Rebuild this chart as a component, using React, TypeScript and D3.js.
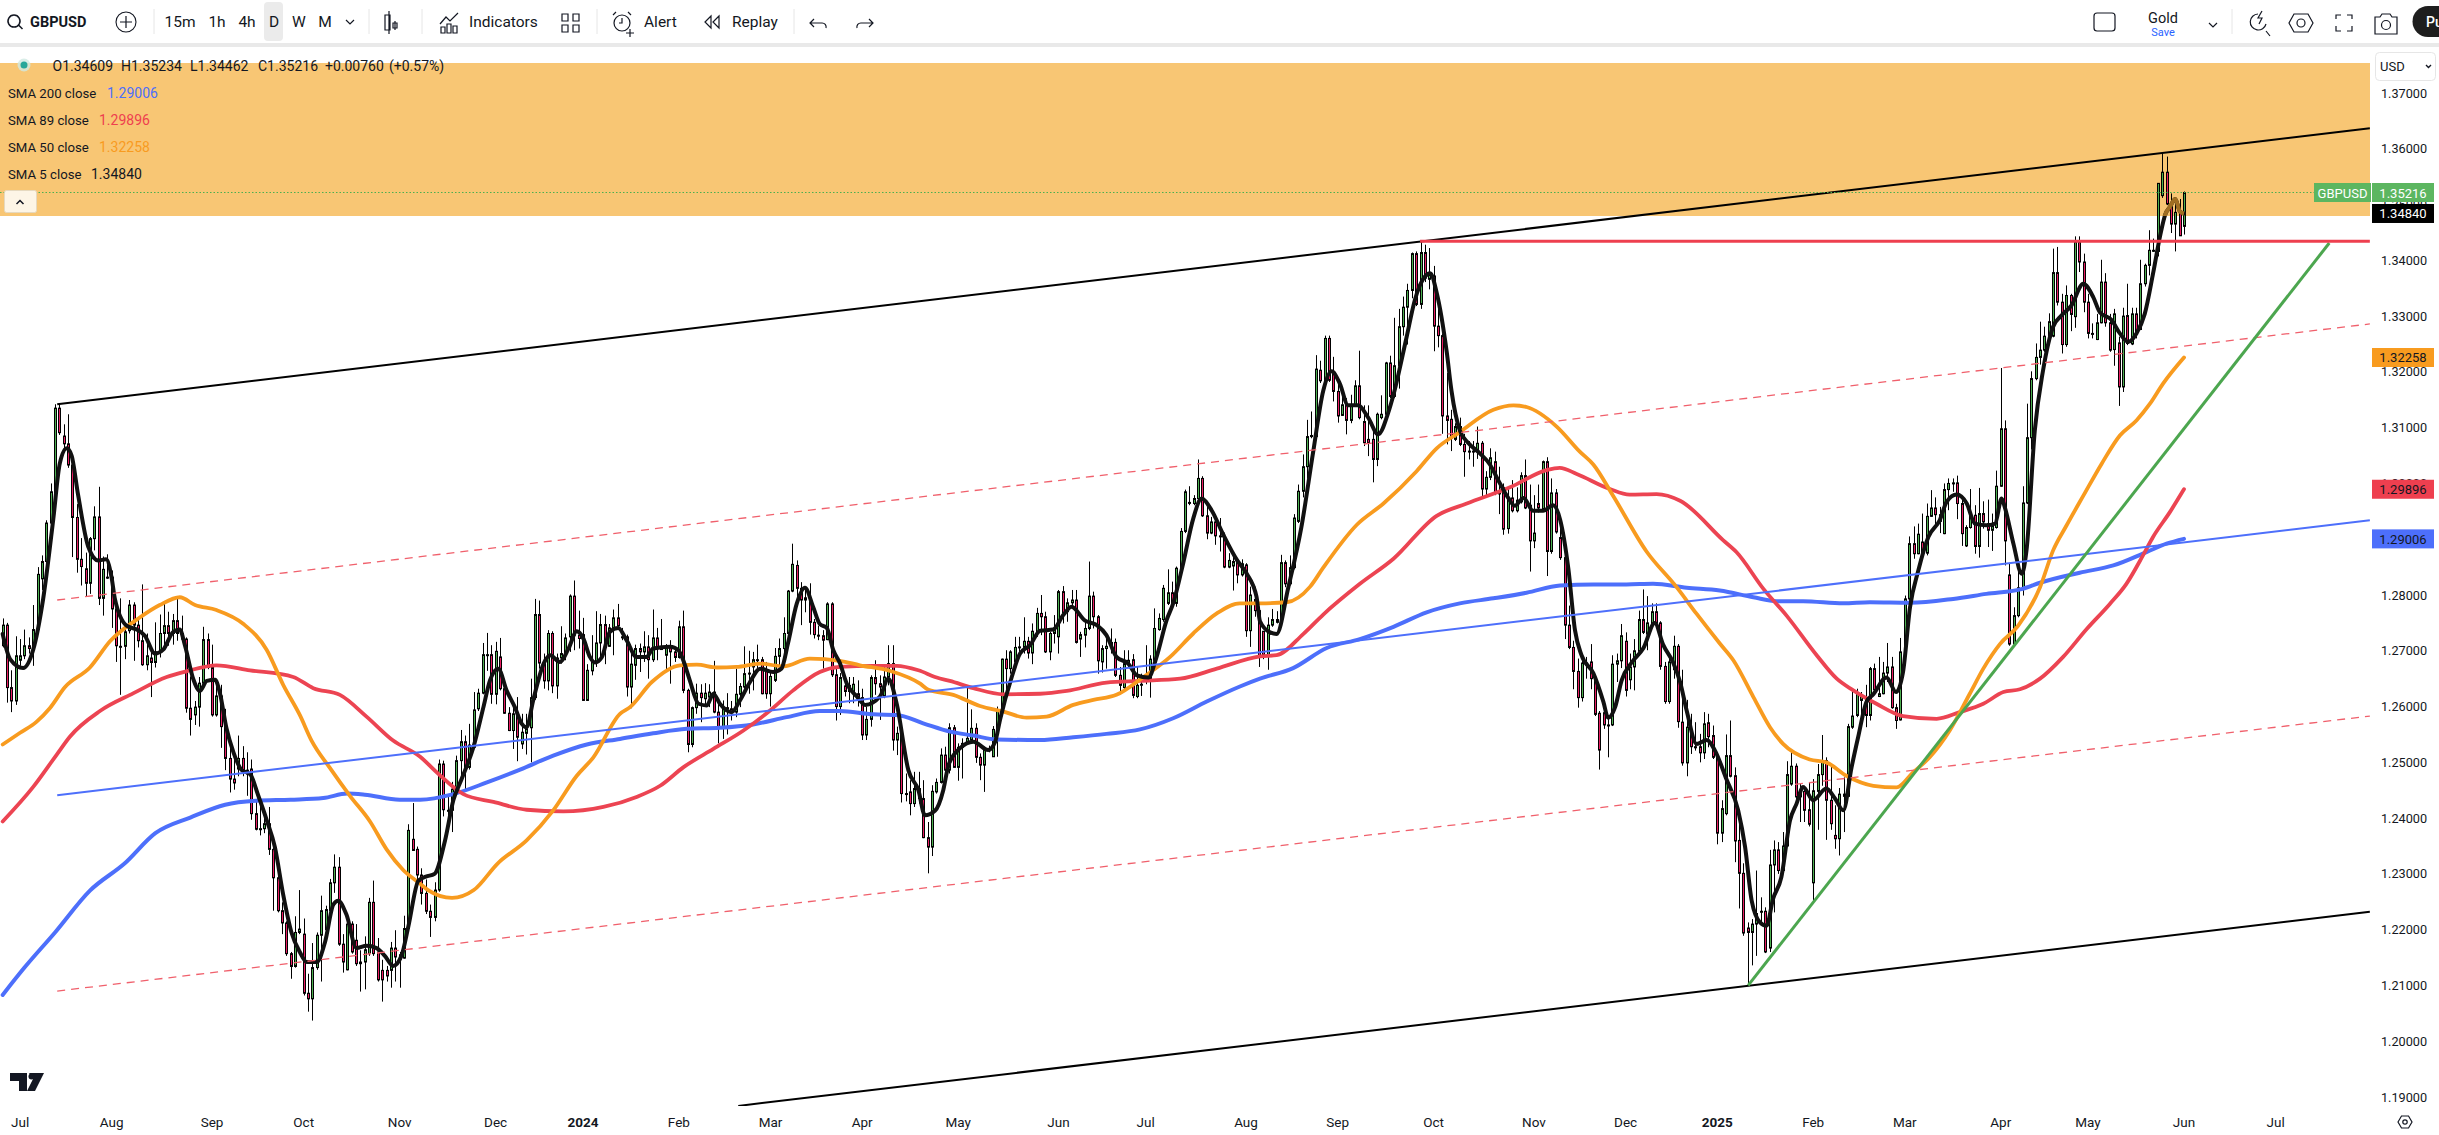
import React from "react";
import * as d3 from "d3";

type Row = number[];
// Daily GBPUSD candles, [open, high, low, close]
const bars2023Jul: Row[] = [
[1.2709,1.2758,1.2706,1.2746],[1.2746,1.2750,1.2607,1.2634],[1.2634,1.2665,1.2590,1.2610],[1.2610,1.2726,1.2603,1.2691],[1.2683,1.2721,1.2673,1.2691],[1.2691,1.2738,1.2685,1.2709],[1.2709,1.2724,1.2695,1.2704],[1.2704,1.2782,1.2673,1.2738],[1.2738,1.2850,1.2731,1.2837],[1.2829,1.2871,1.2809,1.2860],
[1.2860,1.2934,1.2855,1.2929],[1.2929,1.3000,1.2926,1.2985],[1.2982,1.3142,1.2979,1.3135],[1.3135,1.3142,1.3087,1.3091],[1.3085,1.3106,1.3060,1.3071],[1.3071,1.3124,1.3028,1.3033],[1.3033,1.3043,1.2868,1.2939],[1.2939,1.2963,1.2840,1.2864],[1.2864,1.2902,1.2817,1.2851],[1.2847,1.2876,1.2798,1.2821],
[1.2821,1.2904,1.2802,1.2901],[1.2901,1.2959,1.2880,1.2940],[1.2940,1.2994,1.2782,1.2794],[1.2794,1.2869,1.2763,1.2846],[1.2832,1.2873,1.2829,1.2832],
];
const bars2023Aug: Row[] = [
[1.2832,1.2844,1.2741,1.2775],[1.2775,1.2791,1.2680,1.2709],[1.2708,1.2794,1.2621,1.2708],[1.2708,1.2745,1.2685,1.2734],[1.2736,1.2791,1.2731,1.2782],[1.2782,1.2787,1.2682,1.2746],[1.2746,1.2760,1.2706,1.2718],[1.2718,1.2819,1.2673,1.2675],[1.2675,1.2731,1.2665,1.2691],[1.2687,1.2702,1.2617,1.2679],
[1.2679,1.2751,1.2670,1.2698],[1.2698,1.2765,1.2688,1.2731],[1.2731,1.2786,1.2709,1.2745],[1.2745,1.2770,1.2709,1.2731],[1.2731,1.2766,1.2711,1.2754],[1.2754,1.2798,1.2718,1.2731],[1.2731,1.2763,1.2717,1.2721],[1.2721,1.2724,1.2589,1.2597],[1.2597,1.2654,1.2548,1.2577],[1.2585,1.2610,1.2567,1.2599],
[1.2599,1.2653,1.2564,1.2642],[1.2642,1.2743,1.2639,1.2720],[1.2720,1.2731,1.2667,1.2670],
];
const bars2023Sep: Row[] = [
[1.2670,1.2711,1.2582,1.2585],[1.2585,1.2642,1.2582,1.2619],[1.2619,1.2639,1.2526,1.2564],[1.2564,1.2596,1.2486,1.2507],[1.2507,1.2532,1.2446,1.2470],[1.2470,1.2507,1.2451,1.2463],[1.2488,1.2548,1.2475,1.2507],[1.2507,1.2529,1.2475,1.2486],[1.2486,1.2518,1.2440,1.2479],[1.2488,1.2505,1.2397,1.2408],
[1.2408,1.2433,1.2378,1.2380],[1.2381,1.2429,1.2369,1.2381],[1.2381,1.2411,1.2373,1.2390],[1.2390,1.2420,1.2334,1.2344],[1.2344,1.2362,1.2234,1.2293],[1.2293,1.2320,1.2231,1.2234],[1.2234,1.2249,1.2192,1.2212],[1.2212,1.2215,1.2153,1.2157],[1.2157,1.2160,1.2112,1.2134],[1.2134,1.2224,1.2132,1.2195],
[1.2195,1.2271,1.2192,1.2201],
];
const bars2023Oct: Row[] = [
[1.2192,1.2220,1.2082,1.2086],[1.2086,1.2121,1.2053,1.2076],[1.2076,1.2176,1.2037,1.2132],[1.2132,1.2195,1.2128,1.2190],[1.2190,1.2261,1.2107,1.2234],[1.2200,1.2243,1.2195,1.2236],[1.2234,1.2291,1.2231,1.2284],[1.2284,1.2335,1.2266,1.2312],[1.2312,1.2330,1.2171,1.2174],[1.2174,1.2192,1.2123,1.2142],
[1.2128,1.2215,1.2127,1.2210],[1.2210,1.2215,1.2157,1.2160],[1.2181,1.2210,1.2135,1.2139],[1.2142,1.2163,1.2089,1.2139],[1.2142,1.2188,1.2093,1.2164],[1.2157,1.2257,1.2153,1.2249],[1.2249,1.2288,1.2153,1.2157],[1.2160,1.2185,1.2107,1.2110],[1.2127,1.2146,1.2071,1.2110],[1.2127,1.2135,1.2107,1.2117],
[1.2127,1.2178,1.2096,1.2167],[1.2167,1.2199,1.2107,1.2151],
];
const bars2023Nov: Row[] = [
[1.2147,1.2160,1.2096,1.2155],[1.2149,1.2225,1.2148,1.2202],[1.2202,1.2389,1.2199,1.2378],[1.2362,1.2427,1.2342,1.2342],[1.2344,1.2349,1.2291,1.2298],[1.2298,1.2310,1.2245,1.2265],[1.2265,1.2290,1.2228,1.2233],[1.2233,1.2245,1.2187,1.2222],[1.2222,1.2285,1.2215,1.2271],[1.2271,1.2505,1.2268,1.2497],
[1.2497,1.2503,1.2403,1.2415],[1.2414,1.2440,1.2375,1.2414],[1.2414,1.2465,1.2375,1.2452],[1.2447,1.2512,1.2444,1.2503],[1.2503,1.2558,1.2473,1.2537],[1.2537,1.2548,1.2447,1.2491],[1.2491,1.2569,1.2487,1.2531],[1.2527,1.2626,1.2524,1.2594],[1.2596,1.2632,1.2592,1.2624],[1.2624,1.2714,1.2622,1.2693],
[1.2693,1.2732,1.2664,1.2693],[1.2693,1.2710,1.2605,1.2622],
];
const bars2023Dec: Row[] = [
[1.2622,1.2716,1.2604,1.2699],[1.2689,1.2723,1.2629,1.2632],[1.2632,1.2635,1.2587,1.2588],[1.2588,1.2599,1.2556,1.2557],[1.2557,1.2599,1.2524,1.2587],[1.2587,1.2617,1.2502,1.2545],[1.2533,1.2587,1.2524,1.2554],[1.2552,1.2587,1.2514,1.2560],[1.2562,1.2650,1.2500,1.2616],[1.2616,1.2793,1.2612,1.2765],
[1.2765,1.2790,1.2668,1.2678],[1.2678,1.2695,1.2632,1.2646],[1.2646,1.2737,1.2629,1.2731],[1.2731,1.2735,1.2624,1.2637],[1.2637,1.2695,1.2614,1.2687],[1.2687,1.2744,1.2677,1.2695],[1.2695,1.2731,1.2683,1.2723],[1.2725,1.2801,1.2698,1.2798],[1.2798,1.2826,1.2701,1.2728],[1.2728,1.2772,1.2704,1.2722],
];
const bars2024Jan: Row[] = [
[1.2729,1.2759,1.2611,1.2611],[1.2611,1.2676,1.2610,1.2665],[1.2664,1.2728,1.2656,1.2680],[1.2680,1.2771,1.2671,1.2714],[1.2714,1.2766,1.2686,1.2747],[1.2747,1.2763,1.2676,1.2710],[1.2708,1.2748,1.2707,1.2741],[1.2741,1.2774,1.2692,1.2759],[1.2759,1.2784,1.2741,1.2745],[1.2725,1.2741,1.2719,1.2725],
[1.2725,1.2729,1.2618,1.2635],[1.2635,1.2698,1.2597,1.2676],[1.2674,1.2711,1.2648,1.2704],[1.2704,1.2713,1.2662,1.2698],[1.2698,1.2735,1.2680,1.2707],[1.2707,1.2728,1.2650,1.2684],[1.2684,1.2774,1.2680,1.2723],[1.2723,1.2741,1.2683,1.2705],[1.2704,1.2757,1.2702,1.2703],[1.2692,1.2712,1.2662,1.2705],
[1.2707,1.2719,1.2641,1.2698],[1.2698,1.2707,1.2680,1.2688],
];
const bars2024Feb: Row[] = [
[1.2688,1.2754,1.2686,1.2743],[1.2743,1.2772,1.2624,1.2629],[1.2629,1.2632,1.2518,1.2532],[1.2532,1.2600,1.2527,1.2598],[1.2598,1.2641,1.2587,1.2624],[1.2624,1.2640,1.2572,1.2616],[1.2614,1.2642,1.2602,1.2624],[1.2617,1.2640,1.2599,1.2626],[1.2626,1.2682,1.2588,1.2590],[1.2590,1.2605,1.2534,1.2563],
[1.2563,1.2611,1.2542,1.2598],[1.2598,1.2624,1.2550,1.2596],[1.2596,1.2610,1.2575,1.2590],[1.2590,1.2668,1.2581,1.2622],[1.2622,1.2642,1.2599,1.2636],[1.2635,1.2708,1.2632,1.2659],[1.2659,1.2700,1.2623,1.2660],[1.2671,1.2698,1.2629,1.2684],[1.2684,1.2711,1.2662,1.2684],[1.2684,1.2689,1.2622,1.2623],
[1.2665,1.2680,1.2614,1.2623],
];
const bars2024Mar: Row[] = [
[1.2623,1.2665,1.2600,1.2654],[1.2647,1.2705,1.2644,1.2690],[1.2690,1.2722,1.2674,1.2704],[1.2704,1.2760,1.2692,1.2731],[1.2731,1.2809,1.2728,1.2807],[1.2807,1.2892,1.2805,1.2855],[1.2853,1.2862,1.2793,1.2812],[1.2812,1.2823,1.2746,1.2791],[1.2795,1.2814,1.2769,1.2791],[1.2793,1.2821,1.2729,1.2751],
[1.2751,1.2757,1.2722,1.2729],[1.2728,1.2745,1.2719,1.2727],[1.2727,1.2737,1.2668,1.2719],[1.2720,1.2787,1.2719,1.2784],[1.2784,1.2787,1.2653,1.2657],[1.2657,1.2671,1.2575,1.2600],[1.2600,1.2660,1.2585,1.2652],[1.2637,1.2653,1.2618,1.2627],[1.2627,1.2653,1.2606,1.2638],[1.2625,1.2653,1.2606,1.2640],
[1.2623,1.2647,1.2600,1.2618],
];
const bars2024Apr: Row[] = [
[1.2616,1.2632,1.2540,1.2549],[1.2549,1.2600,1.2540,1.2577],[1.2577,1.2656,1.2564,1.2652],[1.2652,1.2683,1.2621,1.2641],[1.2641,1.2656,1.2576,1.2635],[1.2619,1.2671,1.2615,1.2653],[1.2653,1.2710,1.2638,1.2677],[1.2677,1.2710,1.2521,1.2540],[1.2540,1.2564,1.2513,1.2552],[1.2552,1.2558,1.2428,1.2444],
[1.2444,1.2480,1.2430,1.2444],[1.2447,1.2468,1.2405,1.2426],[1.2426,1.2483,1.2420,1.2453],[1.2453,1.2483,1.2426,1.2435],[1.2435,1.2468,1.2364,1.2365],[1.2365,1.2393,1.2301,1.2348],[1.2348,1.2459,1.2332,1.2448],[1.2447,1.2471,1.2444,1.2464],[1.2464,1.2525,1.2462,1.2513],[1.2513,1.2528,1.2480,1.2486],
[1.2486,1.2570,1.2480,1.2562],[1.2562,1.2567,1.2491,1.2491],
];
const bars2024May: Row[] = [
[1.2491,1.2534,1.2467,1.2527],[1.2527,1.2543,1.2471,1.2534],[1.2534,1.2634,1.2531,1.2543],[1.2540,1.2595,1.2537,1.2561],[1.2561,1.2570,1.2499,1.2509],[1.2509,1.2516,1.2468,1.2495],[1.2495,1.2528,1.2447,1.2525],[1.2525,1.2530,1.2518,1.2523],[1.2510,1.2565,1.2510,1.2559],[1.2559,1.2600,1.2510,1.2592],
[1.2592,1.2686,1.2591,1.2685],[1.2685,1.2701,1.2618,1.2668],[1.2668,1.2701,1.2659,1.2698],[1.2680,1.2725,1.2677,1.2706],[1.2707,1.2725,1.2695,1.2707],[1.2706,1.2760,1.2695,1.2717],[1.2717,1.2725,1.2686,1.2696],[1.2696,1.2749,1.2676,1.2735],[1.2734,1.2777,1.2725,1.2767],[1.2767,1.2800,1.2728,1.2761],
[1.2761,1.2770,1.2696,1.2698],[1.2698,1.2734,1.2683,1.2731],
];
const bars2024Jun: Row[] = [
[1.2731,1.2764,1.2713,1.2740],[1.2725,1.2809,1.2695,1.2806],[1.2806,1.2816,1.2749,1.2768],[1.2770,1.2794,1.2752,1.2786],[1.2786,1.2809,1.2779,1.2791],[1.2791,1.2809,1.2713,1.2715],[1.2721,1.2734,1.2689,1.2729],[1.2728,1.2755,1.2706,1.2740],[1.2740,1.2860,1.2737,1.2798],[1.2798,1.2806,1.2740,1.2761],
[1.2761,1.2764,1.2659,1.2682],[1.2680,1.2710,1.2661,1.2704],[1.2704,1.2722,1.2668,1.2708],[1.2708,1.2740,1.2695,1.2715],[1.2715,1.2722,1.2653,1.2656],[1.2656,1.2671,1.2622,1.2638],[1.2634,1.2701,1.2629,1.2677],[1.2677,1.2701,1.2670,1.2683],[1.2684,1.2694,1.2615,1.2620],[1.2618,1.2671,1.2615,1.2638],
];
const bars2024Jul: Row[] = [
[1.2640,1.2659,1.2619,1.2640],[1.2647,1.2710,1.2640,1.2647],[1.2649,1.2692,1.2616,1.2685],[1.2683,1.2776,1.2677,1.2740],[1.2738,1.2767,1.2736,1.2758],[1.2756,1.2818,1.2752,1.2812],[1.2785,1.2846,1.2782,1.2804],[1.2804,1.2824,1.2782,1.2785],[1.2785,1.2851,1.2779,1.2848],[1.2846,1.2920,1.2842,1.2914],
[1.2914,1.2989,1.2911,1.2985],[1.2966,1.2995,1.2961,1.2966],[1.2964,1.2979,1.2961,1.2973],[1.2973,1.3043,1.2970,1.3009],[1.3009,1.3013,1.2940,1.2942],[1.2942,1.2958,1.2900,1.2911],[1.2911,1.2940,1.2909,1.2931],[1.2931,1.2936,1.2890,1.2906],[1.2906,1.2938,1.2878,1.2905],[1.2905,1.2912,1.2848,1.2850],
[1.2850,1.2875,1.2848,1.2862],[1.2852,1.2875,1.2808,1.2860],[1.2860,1.2866,1.2821,1.2836],
];
const bars2024Aug: Row[] = [
[1.2836,1.2864,1.2833,1.2856],[1.2854,1.2857,1.2725,1.2736],[1.2736,1.2815,1.2707,1.2800],[1.2792,1.2815,1.2761,1.2772],[1.2772,1.2779,1.2671,1.2689],[1.2735,1.2735,1.2685,1.2692],[1.2691,1.2760,1.2666,1.2746],[1.2746,1.2775,1.2743,1.2756],[1.2751,1.2771,1.2749,1.2756],[1.2756,1.2872,1.2755,1.2858],
[1.2858,1.2862,1.2814,1.2820],[1.2820,1.2871,1.2817,1.2849],[1.2849,1.2945,1.2846,1.2938],[1.2932,1.2998,1.2929,1.2986],[1.2986,1.3052,1.2975,1.3030],[1.3030,1.3114,1.3009,1.3084],[1.3084,1.3129,1.3081,1.3086],[1.3084,1.3230,1.3083,1.3205],[1.3203,1.3220,1.3180,1.3184],[1.3184,1.3265,1.3179,1.3260],
[1.3260,1.3265,1.3182,1.3185],[1.3198,1.3227,1.3147,1.3165],
];
const bars2024Sep: Row[] = [
[1.3165,1.3185,1.3109,1.3121],[1.3122,1.3159,1.3121,1.3141],[1.3141,1.3153,1.3088,1.3113],[1.3113,1.3159,1.3108,1.3141],[1.3140,1.3185,1.3137,1.3175],[1.3175,1.3238,1.3115,1.3118],[1.3111,1.3140,1.3067,1.3073],[1.3079,1.3140,1.3049,1.3073],[1.3079,1.3095,1.3002,1.3043],[1.3043,1.3127,1.3031,1.3124],
[1.3118,1.3158,1.3115,1.3124],[1.3124,1.3218,1.3121,1.3216],[1.3216,1.3229,1.3153,1.3156],[1.3156,1.3297,1.3153,1.3211],[1.3211,1.3313,1.3170,1.3281],[1.3281,1.3335,1.3265,1.3316],[1.3316,1.3358,1.3249,1.3346],[1.3346,1.3414,1.3332,1.3412],[1.3412,1.3416,1.3318,1.3321],[1.3321,1.3434,1.3313,1.3414],
[1.3414,1.3428,1.3361,1.3368],[1.3366,1.3422,1.3348,1.3374],
];
const bars2024Oct: Row[] = [
[1.3372,1.3390,1.3237,1.3282],[1.3282,1.3339,1.3244,1.3265],[1.3265,1.3268,1.3089,1.3121],[1.3121,1.3198,1.3070,1.3113],[1.3115,1.3132,1.3058,1.3081],[1.3079,1.3108,1.3076,1.3102],[1.3102,1.3118,1.3067,1.3070],[1.3070,1.3089,1.3012,1.3057],[1.3058,1.3076,1.3043,1.3058],[1.3058,1.3076,1.3030,1.3057],
[1.3057,1.3102,1.3044,1.3072],[1.3072,1.3076,1.2975,1.2990],[1.2990,1.3022,1.2975,1.3011],[1.3011,1.3063,1.3006,1.3046],[1.3039,1.3057,1.2979,1.2983],[1.2983,1.3030,1.2945,1.2982],[1.2993,1.3000,1.2908,1.2918],[1.2919,1.2993,1.2910,1.2974],[1.2974,1.3006,1.2948,1.2951],[1.2951,1.2993,1.2948,1.2970],
[1.2967,1.3020,1.2964,1.3014],[1.3014,1.3043,1.2954,1.2956],
];
const bars2024Nov: Row[] = [
[1.2961,1.2998,1.2842,1.2897],[1.2897,1.2979,1.2884,1.2911],[1.2964,1.2998,1.2948,1.2956],[1.2955,1.3041,1.2951,1.3039],[1.3039,1.3047,1.2834,1.2878],[1.2878,1.3009,1.2874,1.2983],[1.2983,1.2990,1.2910,1.2913],[1.2903,1.2942,1.2863,1.2867],[1.2867,1.2871,1.2721,1.2746],[1.2746,1.2781,1.2703,1.2706],
[1.2706,1.2718,1.2631,1.2663],[1.2663,1.2686,1.2598,1.2616],[1.2616,1.2686,1.2609,1.2678],[1.2678,1.2689,1.2650,1.2675],[1.2680,1.2712,1.2631,1.2650],[1.2650,1.2653,1.2583,1.2586],[1.2588,1.2592,1.2487,1.2522],[1.2589,1.2596,1.2560,1.2567],[1.2567,1.2583,1.2509,1.2567],[1.2567,1.2692,1.2565,1.2676],
[1.2676,1.2695,1.2644,1.2682],
];
const bars2024Dec: Row[] = [
[1.2682,1.2748,1.2669,1.2727],[1.2717,1.2733,1.2618,1.2629],[1.2648,1.2695,1.2631,1.2671],[1.2671,1.2721,1.2629,1.2700],[1.2699,1.2772,1.2695,1.2756],[1.2756,1.2810,1.2730,1.2733],[1.2730,1.2798,1.2701,1.2750],[1.2748,1.2785,1.2746,1.2770],[1.2770,1.2785,1.2746,1.2750],[1.2750,1.2753,1.2666,1.2672],
[1.2672,1.2680,1.2605,1.2609],[1.2609,1.2688,1.2605,1.2680],[1.2666,1.2727,1.2650,1.2708],[1.2708,1.2712,1.2562,1.2573],[1.2572,1.2666,1.2494,1.2499],[1.2499,1.2612,1.2475,1.2563],[1.2557,1.2587,1.2515,1.2528],[1.2528,1.2572,1.2521,1.2526],[1.2528,1.2551,1.2500,1.2517],[1.2517,1.2590,1.2506,1.2569],
[1.2571,1.2587,1.2527,1.2546],
];
const bars2025Jan: Row[] = [
[1.2548,1.2566,1.2506,1.2509],[1.2510,1.2515,1.2353,1.2373],[1.2373,1.2432,1.2357,1.2417],[1.2408,1.2550,1.2405,1.2512],[1.2512,1.2575,1.2473,1.2475],[1.2476,1.2491,1.2321,1.2359],[1.2360,1.2412,1.2238,1.2301],[1.2301,1.2319,1.2189,1.2194],[1.2203,1.2213,1.2100,1.2195],[1.2195,1.2219,1.2136,1.2210],
[1.2210,1.2306,1.2153,1.2229],[1.2233,1.2258,1.2210,1.2233],[1.2233,1.2240,1.2158,1.2160],[1.2167,1.2343,1.2160,1.2316],[1.2316,1.2360,1.2231,1.2343],[1.2343,1.2357,1.2300,1.2306],[1.2306,1.2375,1.2303,1.2350],[1.2350,1.2502,1.2348,1.2478],[1.2461,1.2522,1.2458,1.2493],[1.2493,1.2498,1.2426,1.2438],
[1.2438,1.2461,1.2393,1.2448],[1.2448,1.2458,1.2393,1.2414],
];
const bars2025Feb: Row[] = [
[1.2415,1.2464,1.2385,1.2389],[1.2284,1.2470,1.2249,1.2449],[1.2448,1.2497,1.2379,1.2478],[1.2478,1.2549,1.2458,1.2503],[1.2503,1.2509,1.2361,1.2432],[1.2432,1.2497,1.2379,1.2390],[1.2369,1.2423,1.2345,1.2363],[1.2363,1.2454,1.2333,1.2443],[1.2443,1.2473,1.2375,1.2439],[1.2439,1.2569,1.2438,1.2564],
[1.2563,1.2629,1.2560,1.2583],[1.2584,1.2632,1.2581,1.2622],[1.2611,1.2626,1.2581,1.2621],[1.2612,1.2639,1.2563,1.2584],[1.2584,1.2671,1.2575,1.2668],[1.2668,1.2677,1.2628,1.2630],[1.2618,1.2689,1.2617,1.2623],[1.2623,1.2680,1.2622,1.2660],[1.2660,1.2714,1.2644,1.2671],[1.2671,1.2689,1.2596,1.2598],
[1.2598,1.2605,1.2560,1.2575],
];
const bars2025Mar: Row[] = [
[1.2576,1.2723,1.2575,1.2698],[1.2698,1.2799,1.2695,1.2793],[1.2793,1.2905,1.2769,1.2892],[1.2892,1.2923,1.2865,1.2874],[1.2874,1.2928,1.2873,1.2909],[1.2895,1.2946,1.2868,1.2875],[1.2875,1.2964,1.2871,1.2941],[1.2941,1.2988,1.2940,1.2956],[1.2956,1.2975,1.2922,1.2944],[1.2944,1.2958,1.2911,1.2932],
[1.2910,1.3000,1.2909,1.2989],[1.2989,1.3009,1.2952,1.3000],[1.3001,1.3009,1.2985,1.3001],[1.3001,1.3014,1.2936,1.2964],[1.2964,1.2976,1.2888,1.2910],[1.2888,1.2925,1.2886,1.2921],[1.2921,1.2990,1.2919,1.2943],[1.2943,1.2961,1.2874,1.2887],[1.2887,1.2992,1.2867,1.2946],[1.2946,1.2968,1.2919,1.2931],
[1.2928,1.2971,1.2886,1.2916],
];
const bars2025Apr: Row[] = [
[1.2916,1.2946,1.2879,1.2923],[1.2921,1.3023,1.2919,1.2995],[1.2995,1.3207,1.2994,1.3098],[1.3098,1.3113,1.2853,1.2897],[1.2836,1.2856,1.2709,1.2712],[1.2712,1.2778,1.2708,1.2763],[1.2763,1.2850,1.2760,1.2813],[1.2813,1.2995,1.2799,1.2965],[1.2965,1.3143,1.2963,1.3082],[1.3082,1.3201,1.3061,1.3188],
[1.3188,1.3251,1.3185,1.3226],[1.3226,1.3290,1.3213,1.3239],[1.3239,1.3281,1.3236,1.3264],[1.3264,1.3305,1.3263,1.3290],[1.3264,1.3421,1.3262,1.3378],[1.3378,1.3424,1.3319,1.3325],[1.3325,1.3340,1.3233,1.3249],[1.3249,1.3355,1.3245,1.3337],[1.3337,1.3340,1.3273,1.3303],[1.3299,1.3443,1.3279,1.3432],
];
const bars2025May: Row[] = [
[1.3432,1.3443,1.3379,1.3397],[1.3397,1.3412,1.3307,1.3325],[1.3325,1.3340,1.3260,1.3269],[1.3269,1.3287,1.3260,1.3269],[1.3258,1.3304,1.3257,1.3288],[1.3288,1.3401,1.3287,1.3361],[1.3361,1.3377,1.3281,1.3288],[1.3288,1.3304,1.3236,1.3239],[1.3240,1.3313,1.3211,1.3304],[1.3252,1.3263,1.3139,1.3173],
[1.3173,1.3315,1.3164,1.3300],[1.3301,1.3358,1.3248,1.3251],[1.3250,1.3315,1.3248,1.3304],[1.3304,1.3315,1.3260,1.3269],[1.3276,1.3401,1.3275,1.3358],[1.3358,1.3394,1.3353,1.3391],[1.3391,1.3454,1.3373,1.3418],[1.3418,1.3439,1.3415,1.3418],[1.3416,1.3538,1.3407,1.3538],[1.3516,1.3593,1.3512,1.3558],
[1.3558,1.3586,1.3499,1.3501],[1.3501,1.3520,1.3449,1.3465],[1.3465,1.3511,1.3416,1.3486],[1.3486,1.3510,1.3444,1.3444],[1.34609,1.35234,1.34462,1.35216],
];
const candles: Row[] = [...bars2023Jul,...bars2023Aug,...bars2023Sep,...bars2023Oct,...bars2023Nov,...bars2023Dec,...bars2024Jan,...bars2024Feb,...bars2024Mar,...bars2024Apr,...bars2024May,...bars2024Jun,...bars2024Jul,...bars2024Aug,...bars2024Sep,...bars2024Oct,...bars2024Nov,...bars2024Dec,...bars2025Jan,...bars2025Feb,...bars2025Mar,...bars2025Apr,...bars2025May];

// moving averages, [bar index, price]
const sma200: number[][] = [[0,1.2083],[5,1.2132],[12,1.2195],[20,1.2270],[28,1.2319],[35,1.2373],[43,1.2401],[51,1.2424],[58,1.2431],[66,1.2433],[73.5,1.2436],[79,1.2444],[83,1.2442],[91,1.2433],[95.7,1.2433],[103.3,1.2443],[111,1.2464],[118.6,1.2487],[126.2,1.2512],[133.9,1.2532],[141.5,1.2542],[149.1,1.2552],[156.8,1.2560],[164.4,1.2562],[172,1.2568],[179.7,1.2581],[187.3,1.2592],[191.9,1.2592],[199.6,1.2586],[204.9,1.2585],[211,1.2570],[217.2,1.2555],[222.5,1.2548],[227.8,1.2541],[237.8,1.2540],[245.4,1.2545],[253,1.2551],[260.7,1.2559],[268.3,1.2579],[276,1.2609],[283.6,1.2636],[288.2,1.2650],[295.8,1.2669],[303.5,1.2705],[311.1,1.2721],[318.8,1.2743],[326.4,1.2769],[334,1.2785],[341.7,1.2794],[349.3,1.2804],[357,1.2817],[364.6,1.2819],[372.2,1.2819],[378.3,1.2820],[386,1.2813],[393.6,1.2808],[401.3,1.2796],[406.6,1.2789],[412.7,1.2789],[421.9,1.2785],[428,1.2787],[437.2,1.2786],[447.1,1.2793],[454.7,1.2802],[463,1.2811],[467,1.2822],[476.1,1.2840],[483.8,1.2853],[491.4,1.2877],[496,1.2892],[500,1.29006]];
const sma89: number[][] = [[0,1.2394],[7,1.2456],[12.4,1.2514],[15.4,1.2546],[22.3,1.2592],[30,1.2624],[37.6,1.2653],[42,1.2663],[49,1.2674],[56.7,1.2665],[66.6,1.2653],[71.2,1.2633],[77.3,1.2621],[83.4,1.2582],[89.5,1.2539],[95.7,1.2510],[99.5,1.2482],[105.6,1.2443],[112.5,1.2429],[120.1,1.2415],[128.5,1.2412],[137.7,1.2420],[145.3,1.2438],[150.7,1.2458],[156,1.2491],[162.9,1.2524],[169.8,1.2557],[175.9,1.2593],[181.2,1.2629],[187.3,1.2662],[191.9,1.2671],[199.6,1.2673],[204.9,1.2673],[209.9,1.2665],[214.1,1.2652],[217.1,1.2646],[222.5,1.2633],[229.4,1.2622],[237.8,1.2623],[243.9,1.2628],[253,1.2643],[260.7,1.2646],[269.9,1.2650],[278.3,1.2668],[288.2,1.2690],[292,1.2692],[298.1,1.2730],[302.7,1.2765],[311.1,1.2820],[318.8,1.2865],[328.7,1.2942],[335.6,1.2964],[345.5,1.2993],[353.9,1.3024],[356.9,1.3028],[360.8,1.3017],[368.4,1.2990],[372.9,1.2980],[379.1,1.2981],[384.5,1.2969],[394.4,1.2898],[397.4,1.2877],[403.6,1.2811],[408.9,1.2763],[415.8,1.2692],[420.4,1.2650],[424.2,1.2629],[429.5,1.2605],[435.6,1.2583],[443.3,1.2578],[448.6,1.2590],[454,1.2605],[458.6,1.2626],[462.4,1.2631],[467,1.2650],[472.3,1.2689],[477.7,1.2739],[483,1.2784],[486.8,1.2820],[490.6,1.2871],[492.9,1.2904],[496.8,1.2949],[500,1.29896]];
const sma50: number[][] = [[0,1.2532],[4,1.2553],[7.8,1.2573],[10.8,1.2597],[14.3,1.2635],[20,1.2670],[24.6,1.2717],[31.5,1.2760],[36,1.2782],[40.6,1.2796],[44.1,1.2782],[49,1.2773],[55.2,1.2748],[60.5,1.2702],[64.3,1.2639],[68.1,1.2585],[70.8,1.2539],[75,1.2490],[79.6,1.2440],[84.2,1.2394],[88,1.2344],[91.8,1.2307],[95.6,1.2283],[97.5,1.2271],[103,1.2257],[108,1.2271],[113.5,1.2319],[120.1,1.2360],[126.2,1.2414],[131.6,1.2476],[135.4,1.2509],[141.5,1.2587],[143.8,1.2599],[148.8,1.2644],[155.3,1.2674],[159.1,1.2675],[163.7,1.2670],[168.2,1.2671],[173.6,1.2677],[179,1.2672],[185,1.2686],[191.9,1.2682],[196.5,1.2674],[203.4,1.2664],[210.3,1.2641],[212.2,1.2630],[217.9,1.2621],[224,1.2601],[229.4,1.2591],[234.7,1.2580],[239.3,1.2582],[245.4,1.2603],[250,1.2612],[255.3,1.2621],[261.5,1.2653],[267.6,1.2689],[272.9,1.2731],[278.3,1.2767],[283.6,1.2785],[288.2,1.2785],[294.3,1.2787],[299.7,1.2815],[302.7,1.2849],[310.4,1.2926],[316.5,1.2964],[324.1,1.3022],[328.7,1.3063],[334,1.3092],[341.7,1.3132],[346.3,1.3140],[349.3,1.3137],[356.2,1.3102],[361.5,1.3057],[364.6,1.3034],[369.2,1.2977],[376.8,1.2878],[383.7,1.2814],[388.3,1.2766],[393.6,1.2713],[396.7,1.2683],[401.3,1.2617],[405.1,1.2563],[408.1,1.2533],[414.2,1.2505],[418,1.2500],[422.6,1.2476],[428.8,1.2458],[434.1,1.2455],[437.9,1.2482],[441.7,1.2509],[446.3,1.2557],[450.9,1.2623],[454,1.2668],[457.8,1.2712],[462,1.2745],[467,1.2814],[470,1.2880],[473.1,1.2925],[477,1.2979],[481.1,1.3035],[485.3,1.3086],[489.1,1.3113],[492.2,1.3143],[495.2,1.3179],[500,1.32258]];
const sma5: number[][] = [[0,1.2730],[1.7,1.2685],[4.7,1.2669],[7,1.2702],[9.3,1.2794],[11.6,1.2936],[13.1,1.3036],[14.7,1.3063],[15.8,1.3050],[17.3,1.2979],[19.6,1.2887],[21.9,1.2862],[23.7,1.2864],[25,1.2830],[25.7,1.2794],[28.4,1.2745],[30.7,1.2738],[32.6,1.2727],[34.9,1.2695],[36.8,1.2702],[39.1,1.2734],[40.6,1.2738],[41.8,1.2709],[43.7,1.2649],[45.2,1.2628],[46.8,1.2646],[48.7,1.2648],[49.8,1.2624],[51.3,1.2561],[52.9,1.2518],[54.8,1.2486],[56.7,1.2479],[58.6,1.2440],[60.5,1.2397],[62.4,1.2348],[64.3,1.2263],[66.2,1.2195],[68.1,1.2160],[69.7,1.2142],[72,1.2142],[73.9,1.2178],[75.8,1.2245],[76.9,1.2252],[78.8,1.2227],[81.1,1.2167],[83.4,1.2171],[85.7,1.2167],[87.6,1.2153],[89.5,1.2135],[91.4,1.2153],[93,1.2206],[95.3,1.2288],[97,1.2295],[99,1.2300],[101.4,1.2360],[103.3,1.2432],[105.2,1.2470],[107.9,1.2527],[110.2,1.2599],[111.7,1.2647],[113.6,1.2668],[115.5,1.2629],[117.4,1.2599],[119,1.2569],[120.1,1.2563],[121.6,1.2611],[124,1.2677],[125.5,1.2692],[127.7,1.2680],[129.7,1.2704],[131.6,1.2735],[133.1,1.2722],[134.6,1.2689],[135.8,1.2679],[137.3,1.2688],[139.2,1.2734],[141.1,1.2741],[143,1.2719],[145.3,1.2689],[147.6,1.2689],[149.1,1.2704],[153,1.2707],[154.9,1.2701],[156,1.2683],[157.5,1.2647],[159.5,1.2605],[161.4,1.2602],[162.9,1.2623],[164.4,1.2605],[167.1,1.2590],[169,1.2611],[171.3,1.2644],[173.6,1.2668],[176.6,1.2662],[178.5,1.2668],[180,1.2713],[182,1.2784],[183.9,1.2813],[185.8,1.2778],[187.3,1.2748],[188.9,1.2741],[190.4,1.2701],[191.9,1.2678],[193.5,1.2641],[195.8,1.2618],[197.7,1.2603],[201.1,1.2618],[203,1.2650],[204.9,1.2606],[207.6,1.2486],[209.9,1.2450],[211.4,1.2405],[213.7,1.2413],[215.6,1.2450],[216.8,1.2495],[219.4,1.2525],[222.5,1.2537],[225.9,1.2522],[227.5,1.2537],[228.6,1.2576],[231.3,1.2653],[233.2,1.2695],[235.5,1.2710],[237.8,1.2736],[240.8,1.2738],[243.1,1.2764],[245,1.2779],[248.1,1.2754],[250.8,1.2746],[253,1.2728],[255.3,1.2689],[258,1.2677],[260,1.2656],[262.6,1.2652],[264.5,1.2689],[266.8,1.2755],[268.3,1.2785],[270.6,1.2857],[272.9,1.2937],[274.8,1.2973],[277.1,1.2952],[279.8,1.2908],[282.9,1.2863],[285.1,1.2839],[287.4,1.2797],[288.2,1.2753],[290.5,1.2733],[292,1.2730],[294.7,1.2814],[297.7,1.2922],[300.4,1.3057],[302.7,1.3166],[304.6,1.3201],[306.5,1.3179],[308.4,1.3140],[310.7,1.3140],[313,1.3118],[315.3,1.3088],[317.6,1.3127],[318.8,1.3159],[321.8,1.3262],[323.7,1.3329],[326,1.3371],[327.2,1.3377],[328.7,1.3342],[331,1.3236],[332.1,1.3166],[334,1.3095],[335.9,1.3073],[338.6,1.3054],[340.9,1.3034],[342.8,1.3006],[345.1,1.2974],[346.6,1.2960],[348.6,1.2974],[350.8,1.2951],[353.1,1.2951],[355.4,1.2961],[357,1.2935],[358.9,1.2846],[360.4,1.2737],[361.9,1.2692],[364.6,1.2660],[366.9,1.2609],[368,1.2580],[369.6,1.2599],[371.1,1.2647],[373.4,1.2679],[376.1,1.2705],[378.7,1.2750],[380.6,1.2711],[382.9,1.2679],[384.5,1.2644],[386,1.2593],[388.3,1.2533],[390.6,1.2540],[392.5,1.2521],[395.1,1.2470],[397.8,1.2414],[399.4,1.2348],[400.9,1.2252],[402.8,1.2213],[404.3,1.2207],[405.8,1.2255],[407.7,1.2294],[409.7,1.2396],[411.2,1.2426],[412.7,1.2456],[415,1.2432],[418,1.2453],[420,1.2435],[421.9,1.2414],[423.8,1.2491],[425.3,1.2545],[427.2,1.2608],[428.8,1.2622],[431.8,1.2652],[434,1.2626],[435.6,1.2662],[437.2,1.2778],[439.1,1.2844],[441.4,1.2904],[444,1.2934],[445.6,1.2967],[447.9,1.2980],[450.2,1.2964],[452.1,1.2928],[454.7,1.2925],[456.7,1.2928],[458.2,1.2973],[458.9,1.2958],[460.9,1.2892],[462.8,1.2838],[463.9,1.2880],[465.8,1.3095],[467.7,1.3203],[470,1.3281],[471.9,1.3301],[474.2,1.3319],[476.9,1.3358],[479.2,1.3334],[480.7,1.3307],[483.4,1.3293],[485.3,1.3269],[487.2,1.3254],[489.1,1.3269],[491,1.3304],[492.9,1.3376],[494.5,1.3443],[495.7,1.3482],[496.8,1.3496],[498,1.3510],[499.1,1.3487],[500,1.3484]];

// drawings: start and end as [bar index, price]
const upperChannel = [[12.5,1.3142],[542.6,1.3637]];
const lowerChannel = [[168.6,1.1884],[542.6,1.2232]];
const midBlueLine = [[12.5,1.2441],[542.6,1.2934]];
const dashedUpper = [[12.5,1.2791],[542.6,1.3286]];
const dashedLower = [[12.5,1.2090],[542.6,1.2583]];
const resistance = [[324.9,1.3434],[542.6,1.3434]];
const greenTrend = [[400.1,1.2100],[533.3,1.3431]];

const priceTicks = [1.37,1.36,1.35,1.34,1.33,1.32,1.31,1.30,1.29,1.28,1.27,1.26,1.25,1.24,1.23,1.22,1.21,1.20,1.19];
const timeLabels = ["Jul","Aug","Sep","Oct","Nov","Dec","2024","Feb","Mar","Apr","May","Jun","Jul","Aug","Sep","Oct","Nov","Dec","2025","Feb","Mar","Apr","May","Jun","Jul"];
const timeBars = [4,25,48,69,91,113,133,155,176,197,219,242,262,285,306,328,351,372,393,415,436,458,478,500,521];
const legendLine = [["O1.34609",52.5],["H1.35234",121],["L1.34462",190],["C1.35216",258],["+0.00760",325],["(+0.57%)",389]] as [string,number][];
const smaLegend = [["SMA 200 close","1.29006","#4d6ffb",107],["SMA 89 close","1.29896","#ee3f4f",99],["SMA 50 close","1.32258","#f89b1f",99],["SMA 5 close","1.34840","#131722",91]] as [string,string,string,number][];
const lastClose = 1.35216;

const W = 2439, H = 1135;
const FONT = "Roboto, sans-serif";
const x = d3.scaleLinear().domain([0, candles.length - 1]).range([2.67, 2184]);
const y = d3.scaleLinear().domain([1.37, 1.19]).range([93, 1097]);
const smaPath = d3.line<number[]>().x(d => x(d[0])).y(d => y(d[1])).curve(d3.curveMonotoneX);
const seg = (s: number[][]) => ({ x1: x(s[0][0]), y1: y(s[0][1]), x2: x(s[1][0]), y2: y(s[1][1]) });

const Ic = (p: any) => <path fill="none" stroke="#131722" strokeWidth={1.2} {...p} />;
const Tx = ({ x: tx, y: ty, s = 15.5, a = "start", c = "#131722", w = 400, children }: any) => (
  <text x={tx} y={ty} fontSize={s} textAnchor={a} fill={c} fontWeight={w} fontFamily={FONT} dominantBaseline="central">{children}</text>
);
const Tag = ({ v, bg, fg }: { v: number; bg: string; fg: string }) => (
  <g>
    <rect x={2372} y={y(v) - 9.5} width={62} height={19} fill={bg} />
    <Tx x={2403} y={y(v) + 0.5} s={13} a="middle" c={fg}>{v.toFixed(5)}</Tx>
  </g>
);

function Toolbar() {
  const items: [string, number][] = [["15m",180],["1h",217],["4h",247],["D",274],["W",299],["M",325]];
  const seps = [154,369,422,597,794,2232];
  return (
    <g>
      <rect x={264} y={2} width={19} height={39} rx={4} fill="#ebebeb" />
      <rect x={0} y={43} width={W} height={4} fill="#e9e9e9" />
      {seps.map(s => <line key={s} x1={s} x2={s} y1={9} y2={34} stroke="#e6e6e6" />)}
      <Ic d="M14 16a6 6 0 1 0 .01 0M18.5 26l4 4" transform="translate(0,-1)" strokeWidth={1.5} />
      <Tx x={30} y={22} s={14.5} w={700}>GBPUSD</Tx>
      <circle cx={126} cy={22} r={10} fill="none" stroke="#131722" strokeWidth={1.1} />
      <Ic d="M126 16v12M120 22h12" />
      {items.map(([t, px]) => <Tx key={t} x={px} y={22} a="middle">{t}</Tx>)}
      <Ic d="M346 20l4 4 4-4" />
      <Ic d="M393 11v23M389 15h5v15h-5zM399 21v9M397 23h4v5h-4z" transform="translate(-4,0)" />
      <Ic d="M440 24l6-7 4 4 8-8M441 33v-6h4v6zM447 33v-9h4v9zM453 33v-7h4v7z" />
      <Tx x={469} y={22}>Indicators</Tx>
      <Ic d="M562 14h6v7h-6zM573 14h6v7h-6zM562 25h6v7h-6zM573 25h6v7h-6z" />
      <circle cx={622} cy={23} r={8} fill="none" stroke="#131722" strokeWidth={1.2} />
      <Ic d="M622 18v5h-3M626 33h8M630 29v8M613 15l3-3M631 15l-3-3" />
      <Tx x={644} y={22}>Alert</Tx>
      <Ic d="M711 16l-6 6 6 6zM719 16l-6 6 6 6z" />
      <Tx x={732} y={22}>Replay</Tx>
      <Ic d="M814 19l-4 4 4 4M810 23h12a4 4 0 0 1 4 5" />
      <Ic d="M869 19l4 4-4 4M873 23h-12a4 4 0 0 0-4 5" />
      <rect x={2094} y={13} width={21} height={18} rx={3} fill="none" stroke="#131722" strokeWidth={1.2} />
      <Tx x={2163} y={18} s={14.5} a="middle">Gold</Tx>
      <Tx x={2163} y={32} s={11} a="middle" c="#2962ff">Save</Tx>
      <Ic d="M2209 23l4 4 4-4" />
      <Ic d="M2258 14a8 8 0 1 0 8 10M2262 11l-4 7h4l-3 6M2266 31l4 5" />
      <Ic d="M2294 14h14l5 9-5 9h-14l-5-9z" />
      <circle cx={2301} cy={23} r={4} fill="none" stroke="#131722" strokeWidth={1.2} />
      <Ic d="M2336 19v-4h5M2347 15h5v4M2352 26v5h-5M2341 31h-5v-5" />
      <Ic d="M2375 17h5l2-3h8l2 3h5v17h-22z" />
      <circle cx={2386} cy={25} r={4.5} fill="none" stroke="#131722" strokeWidth={1.2} />
      <path d={`M2439 6H2428a15.5 15.5 0 0 0 0 31H2439z`} fill="#1e1e1e" />
      <Tx x={2426} y={22} s={14} c="#ffffff" w={500}>Pu</Tx>
    </g>
  );
}

export default function App() {
  const sma5D = smaPath(sma5) || "";
  const up = seg(upperChannel), low = seg(lowerChannel), mid = seg(midBlueLine), du = seg(dashedUpper), dl = seg(dashedLower), rs = seg(resistance), gt = seg(greenTrend);
  return (
    <svg width={W} height={H} viewBox={`0 0 ${W} ${H}`} style={{ position: "absolute", left: 0, top: 0, background: "#fff" }}>
      <defs>
        <clipPath id="pane"><rect x={0} y={47} width={2370} height={1059} /></clipPath>
        <clipPath id="zone"><rect x={0} y={63} width={2370} height={153} /></clipPath>
      </defs>
      <rect x={0} y={63} width={2370} height={153} fill="#f8c674" />
      <g clipPath="url(#pane)">
        {candles.map(([o, h, l, c], i) => {
          const cx = Math.round(x(i));
          const top = y(Math.max(o, c)), bot = y(Math.min(o, c));
          return (
            <g key={i}>
              <line x1={cx + 0.5} x2={cx + 0.5} y1={y(h)} y2={y(l)} stroke="#000" strokeWidth={1} />
              <rect x={cx - 0.5} y={top} width={2} height={Math.max(bot - top, 1)} fill={c >= o ? "#4caf50" : "#e91e63"} stroke="#000" strokeWidth={1} />
            </g>
          );
        })}
        <path d={smaPath(sma200) || ""} fill="none" stroke="#4d6ffb" strokeWidth={4} strokeLinejoin="round" strokeLinecap="round" />
        <path d={smaPath(sma89) || ""} fill="none" stroke="#ec4452" strokeWidth={3.8} strokeLinejoin="round" strokeLinecap="round" />
        <path d={smaPath(sma50) || ""} fill="none" stroke="#f89b1f" strokeWidth={3.8} strokeLinejoin="round" strokeLinecap="round" />
        <path d={sma5D} fill="none" stroke="#111" strokeWidth={4} strokeLinejoin="round" strokeLinecap="round" />
        <path d={sma5D} fill="none" stroke="#a06e22" strokeWidth={4} strokeLinejoin="round" clipPath="url(#zone)" />
        <line {...du} stroke="#f0606c" strokeWidth={1.3} strokeDasharray="8 6" />
        <line {...dl} stroke="#f0606c" strokeWidth={1.3} strokeDasharray="8 6" />
        <line {...mid} stroke="#4d6ffb" strokeWidth={2} />
        <line {...up} stroke="#000" strokeWidth={2} />
        <line {...low} stroke="#000" strokeWidth={2} />
        <line {...gt} stroke="#4ca64f" strokeWidth={3} />
        <line {...rs} stroke="#ee3f4f" strokeWidth={3} />
        <line x1={0} x2={2370} y1={y(lastClose)} y2={y(lastClose)} stroke="#4caf50" strokeWidth={1} strokeDasharray="1.5 2" />
      </g>

      <Toolbar />

      {/* legend */}
      <circle cx={24} cy={65} r={6.5} fill="#cfe8e2" opacity={0.8} />
      <circle cx={24} cy={65} r={3.5} fill="#26a69a" />
      {legendLine.map(([t, px]) => <Tx key={t} x={px} y={66} s={14}>{t}</Tx>)}
      {smaLegend.map(([n, v, c, px], i) => (
        <g key={n}>
          <Tx x={8} y={93 + i * 27} s={13.2}>{n}</Tx>
          <Tx x={px} y={93 + i * 27} s={14} c={c}>{v}</Tx>
        </g>
      ))}
      <rect x={4.5} y={190.5} width={32} height={22} rx={2} fill="#fdf5e6" stroke="#e6d9bf" />
      <path d="M16.5 204l3.5-3.5 3.5 3.5" fill="none" stroke="#131722" strokeWidth={1.5} />

      {/* TradingView mark */}
      <path d="M10 1073h17v18h-8v-10h-9zM29 1073h15l-9 18h-8l6-12z" fill="#131722" />
      <circle cx={31.5} cy={1076.5} r={3} fill="#131722" />

      {/* price axis */}
      <rect x={2375.5} y={52.5} width={60} height={28} rx={4} fill="#fff" stroke="#e6e6e6" />
      <Tx x={2380} y={66} s={13}>USD</Tx>
      <path d="M2426 65l2.5 2.5 2.5-2.5" fill="none" stroke="#131722" strokeWidth={1.4} />
      {priceTicks.map(p => <Tx key={p} x={2404} y={y(p)} s={12.7} a="middle">{p.toFixed(5)}</Tx>)}
      <rect x={2314} y={y(lastClose) - 9.5} width={57} height={19} fill="#5cb660" />
      <Tx x={2342.5} y={y(lastClose) + 0.5} s={13} a="middle" c="#fff">GBPUSD</Tx>
      <Tag v={lastClose} bg="#5cb660" fg="#fff" />
      <Tag v={1.3484} bg="#000" fg="#fff" />
      <Tag v={1.32258} bg="#f89b1f" fg="#131722" />
      <Tag v={1.29896} bg="#ee3f4f" fg="#131722" />
      <Tag v={1.29006} bg="#4d6ffb" fg="#131722" />

      {/* time axis */}
      {timeLabels.map((t, i) => (
        <Tx key={i} x={x(timeBars[i])} y={1122} s={13.5} a="middle" w={t.length === 4 ? 700 : 400}>{t}</Tx>
      ))}
      <Ic d="M2398 1122l3.5-6h7l3.5 6-3.5 6h-7z" />
      <circle cx={2405} cy={1122} r={2.2} fill="none" stroke="#131722" strokeWidth={1.2} />
    </svg>
  );
}
